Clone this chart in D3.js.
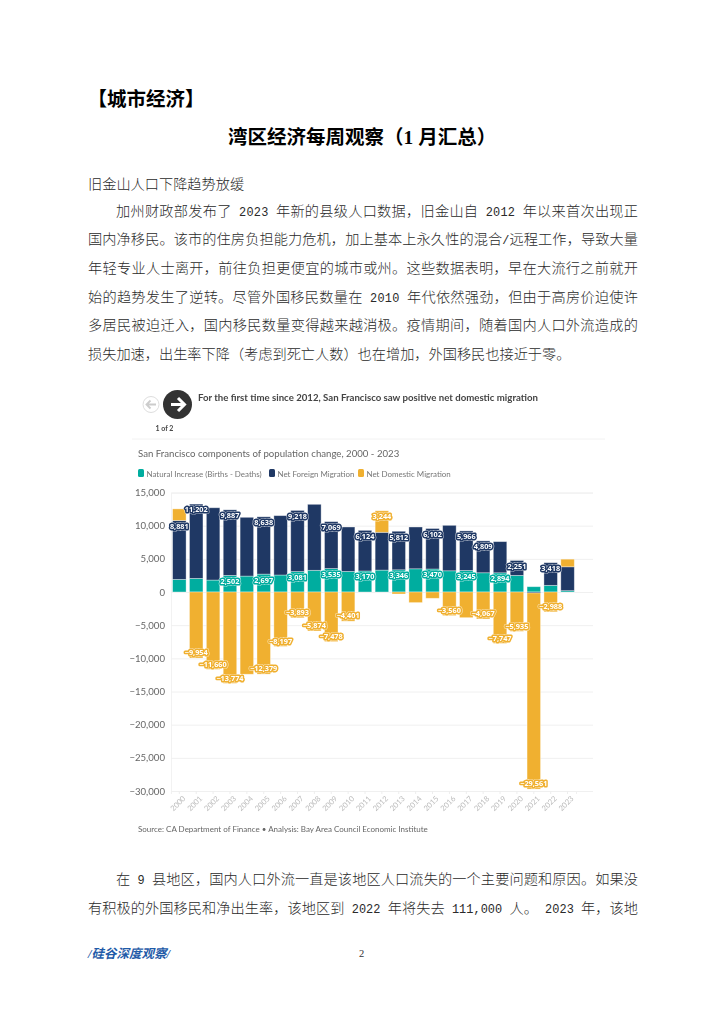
<!DOCTYPE html>
<html><head><meta charset="utf-8">
<script src="https://cdn.jsdelivr.net/npm/d3@7"></script>
<style>html,body{margin:0;padding:0;background:#fff}svg{display:block}text{white-space:pre}</style>
</head><body><div id="c"></div>
<script>
const years=[2000,2001,2002,2003,2004,2005,2006,2007,2008,2009,2010,2011,2012,2013,2014,2015,2016,2017,2018,2019,2020,2021,2022,2023];
const natural=[1900,2050,1800,2502,2400,2697,2560,3081,3270,3535,3100,3170,3300,3346,3500,3470,3200,3245,2900,2894,2500,800,1000,200];
const foreign=[8881,11202,10900,9887,8860,8638,8950,9218,9950,7069,6700,6124,5700,5812,6300,6102,6850,5966,4809,4700,2251,-150,3418,3600];
const domestic=[1750,-9954,-11660,-13774,-12400,-12379,-8197,-3893,-5874,-7478,-4401,0,3244,-300,-1600,-950,-3560,-3870,-4067,-7747,-5935,-29561,-2988,1150];
const naturalLabelled=[2003,2005,2007,2009,2011,2013,2015,2017,2019];
const foreignLabelled=[2000,2001,2003,2005,2007,2009,2011,2013,2015,2017,2018,2020,2022];
const domesticLabelled=[2001,2002,2003,2005,2006,2007,2008,2009,2010,2012,2016,2018,2019,2020,2021,2022];
const yTicks=[15000,10000,5000,0,-5000,-10000,-15000,-20000,-25000,-30000];
const seriesNames=["Natural Increase (Births - Deaths)","Net Foreign Migration","Net Domestic Migration"];
const seriesColors=["#00ad9f","#1f3864","#f0b030"];
const heading="【城市经济】";
const title="湾区经济每周观察\uFF081 月汇总\uFF09";
const subhead="旧金山人口下降趋势放缓";
const para1=["加州财政部发布了 2023 年新的县级人口数据\uFF0C旧金山自 2012 年以来首次出现正",
"国内净移民。该市的住房负担能力危机\uFF0C加上基本上永久性的混合/远程工作\uFF0C导致大量",
"年轻专业人士离开\uFF0C前往负担更便宜的城市或州。这些数据表明\uFF0C早在大流行之前就开",
"始的趋势发生了逆转。尽管外国移民数量在 2010 年代依然强劲\uFF0C但由于高房价迫使许",
"多居民被迫迁入\uFF0C国内移民数量变得越来越消极。疫情期间\uFF0C随着国内人口外流造成的",
"损失加速\uFF0C出生率下降\uFF08考虑到死亡人数\uFF09也在增加\uFF0C外国移民也接近于零。"];
const para2=["在 9 县地区\uFF0C国内人口外流一直是该地区人口流失的一个主要问题和原因。如果没",
"有积极的外国移民和净出生率\uFF0C该地区到 2022 年将失去 111,000 人。 2023 年\uFF0C该地"];
const footer="/硅谷深度观察/";
const pageNo="2";
const chartTitle="For the first time since 2012, San Francisco saw positive net domestic migration";
const chartSub="San Francisco components of population change, 2000 - 2023";
const source="Source: CA Department of Finance • Analysis: Bay Area Council Economic Institute";
const pager="1 of 2";

const svg=d3.select("#c").append("svg").attr("width",724).attr("height",1024).style("background","#fff");
const cjk="'Liberation Serif','Noto Sans CJK SC',sans-serif";
const ink="#2a2a2a";
const txt=(p,s,x,y,o={})=>p.append("text").text(s).attr("x",x).attr("y",y)
  .attr("font-family",o.f||"Lato,sans-serif").attr("font-size",o.s||8).attr("fill",o.c||"#666")
  .attr("font-weight",o.w||400).attr("text-anchor",o.a||"start").attr("font-style",o.i||null);
// body line: CJK runs at full size, latin runs at half-em monospace
const bodyLine=(p,s,x,yy,len)=>{
  const t=p.append("text").attr("x",x).attr("y",yy).attr("fill",ink).attr("font-size",14.2)
    .attr("font-family","'Noto Sans CJK SC',sans-serif").attr("font-weight",300);
  s.match(/[\x00-\x7f]+|[^\x00-\x7f]+/g).forEach(r=>{
    const ts=t.append("tspan").text(r);
    if(/^[\x00-\x7f]/.test(r)) ts.attr("font-family","'Liberation Mono',monospace").attr("font-size",11.9);
  });
  if(len) t.attr("textLength",len).attr("lengthAdjust","spacing");
};

// page text
const page=svg.append("g");
txt(page,heading,87.5,106,{f:cjk,s:19.5,w:700,c:"#000"});
txt(page,title,228,144,{f:cjk,s:19.5,w:700,c:"#000"});
bodyLine(page,subhead,88,189);
const lineYs=[216,244,273,302,330,359];
para1.forEach((l,i)=>bodyLine(page,l,i==0?116:88,lineYs[i],i==5?null:(i==0?522:550)));
[884,913].forEach((yy,i)=>bodyLine(page,para2[i],i==0?116:88,yy,i==0?522:550));
txt(page,footer,88,958,{f:cjk,s:12.5,w:700,c:"#1f5ba8",i:"italic"});
txt(page,pageNo,359,957,{f:"'Liberation Serif',serif",s:10.5,c:"#333"});

// chart
const g=svg.append("g").style("filter","blur(0.4px)");
const x=d3.scaleBand().domain(years).range([170.9,576]).paddingInner(0.2).paddingOuter(0.1);
const y=d3.scaleLinear().domain([-30000,15000]).range([791,492.5]);

g.append("line").attr("x1",132).attr("x2",605).attr("y1",439).attr("y2",439).attr("stroke","#f2f2f2");
// pager
g.append("circle").attr("cx",151).attr("cy",404.5).attr("r",8).attr("fill","#fff").attr("stroke","#ddd").attr("stroke-width",1);
g.append("path").attr("d","M156 404.5H147M150.5 400.5L146.5 404.5L150.5 408.5").attr("fill","none").attr("stroke","#ccc").attr("stroke-width",1.8);
g.append("circle").attr("cx",177.5).attr("cy",404.5).attr("r",14.5).attr("fill","#333");
g.append("path").attr("d","M171 404.5H184M178 398L184.5 404.5L178 411").attr("fill","none").attr("stroke","#fff").attr("stroke-width",3);
txt(g,chartTitle,198,401,{s:9.65,w:700,c:"#444"});
txt(g,pager,164.5,431,{s:7,w:700,c:"#444",a:"middle"});
txt(g,chartSub,138,456.5,{s:9.65,c:"#666"});
txt(g,source,138,832,{s:8,c:"#666"});

// legend
const lgX=[138,269,358];
seriesNames.forEach((n,i)=>{
  g.append("rect").attr("x",lgX[i]).attr("y",469).attr("width",6).attr("height",8).attr("rx",1.5).attr("fill",seriesColors[i]);
  txt(g,n,lgX[i]+8.5,476.5,{s:7.95,c:"#777"});
});

// axes
const yAxis=d3.axisLeft(y).tickValues(yTicks).tickSize(-422).tickPadding(6).tickFormat(d3.format(","));
const ya=g.append("g").attr("transform","translate(171,0)").call(yAxis);
ya.select(".domain").attr("stroke","#f2f2f2");
ya.selectAll(".tick line").attr("stroke","#f0f0f0");
ya.selectAll("text").attr("font-family","Lato,sans-serif").attr("font-size",9.6).attr("fill","#666");
const xAxis=d3.axisBottom(x).tickSize(3).tickPadding(4);
const xa=g.append("g").attr("transform","translate(0,791)").call(xAxis);
xa.select(".domain").attr("stroke","#f0f0f0");
xa.selectAll(".tick line").attr("stroke","#eee");
xa.selectAll("text").attr("font-family","Lato,sans-serif").attr("font-size",7.6).attr("fill","#bbb")
  .attr("text-anchor","end").attr("transform","rotate(-45) translate(-1,-2)");

// stacked segments
const segs=[];
years.forEach((yr,i)=>{
  let pos=0,neg=0;
  [natural[i],foreign[i],domestic[i]].forEach((v,s)=>{
    let a,b;
    if(v>=0){a=pos;b=pos+v;pos=b;}else{a=neg;b=neg+v;neg=b;}
    segs.push({yr,s,v,a,b});
  });
});
g.append("g").selectAll("rect").data(segs.filter(d=>d.v!==0)).join("rect")
  .attr("x",d=>x(d.yr)).attr("width",x.bandwidth())
  .attr("y",d=>Math.min(y(d.a),y(d.b))).attr("height",d=>Math.abs(y(d.a)-y(d.b)))
  .attr("fill",d=>seriesColors[d.s]).attr("stroke","#fff").attr("stroke-opacity",.45).attr("stroke-width",.8);

// value labels
const labelled=[naturalLabelled,foreignLabelled,domesticLabelled];
const lab=segs.filter(d=>labelled[d.s].includes(d.yr));
const lg=g.append("g");
const place=sel=>sel.attr("x",d=>x(d.yr)+x.bandwidth()/2)
  .attr("y",d=>y(d.b)+(d.v>=0?8.4:-2.7))
  .attr("text-anchor","middle").attr("font-family","'Open Sans',sans-serif").attr("font-size",7.3).attr("font-weight",700)
  .text(d=>d3.format(",")(d.v));
lg.selectAll("text.h").data(lab).join("text").attr("class","h").call(place)
  .attr("fill","none").attr("stroke","#fff").attr("stroke-opacity",.6).attr("stroke-width",4.2).attr("stroke-linejoin","round");
lg.selectAll("text.m").data(lab).join("text").attr("class","m").call(place)
  .attr("fill","#fff").attr("stroke",d=>seriesColors[d.s]).attr("stroke-width",3).attr("stroke-linejoin","round").attr("paint-order","stroke");
</script></body></html>
